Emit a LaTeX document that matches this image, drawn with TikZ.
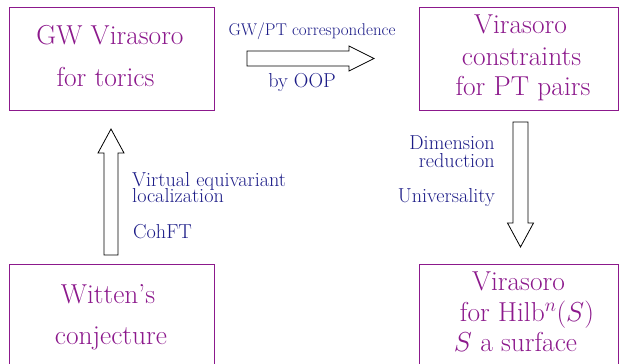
\RequirePackage{fix-cm}
\documentclass[tikz,border=0pt]{standalone}
\definecolor{pur}{RGB}{140,25,140}
\definecolor{blu}{RGB}{28,28,135}
\begin{document}
\begin{tikzpicture}[x=1pt,y=-1pt,
  box/.style={draw=pur, line width=0.8pt, inner sep=0pt},
  ptext/.style={text=pur, font=\fontsize{27.4}{30}\selectfont, inner sep=0pt},
  btext/.style={text=blu, font=\fontsize{20.2}{20}\selectfont, inner sep=0pt},
  stext/.style={text=blu, font=\fontsize{17}{17}\selectfont, inner sep=0pt},
  blockarrow/.style={draw=black, fill=white, line width=0.8pt, line join=miter}]
\useasboundingbox (0,0) rectangle (619,364);
\clip (0,0) rectangle (619,364);
% boxes
\node[box, minimum width=205pt, minimum height=103pt] (gwbox) at (111.5,58.5) {};
\node[box, minimum width=199pt, minimum height=103pt] (ptbox) at (518.5,58.5) {};
\node[box, minimum width=205pt, minimum height=107pt] (wbox) at (111.5,317.5) {};
\node[box, minimum width=199pt, minimum height=106pt] (hbox) at (518.5,317) {};
% box texts
\node[ptext, anchor=base] (gw1) at (110,45) {GW Virasoro};
\node[ptext, anchor=base] (gw2) at (105.5,86) {for torics};
\node[ptext, anchor=base] (pt1) at (520.5,34) {Virasoro};
\node[ptext, anchor=base] (pt2) at (521.5,65) {constraints};
\node[ptext, anchor=base] (pt3) at (523,95) {for PT pairs};
\node[ptext, anchor=base] (w1) at (108,303) {Witten's};
\node[ptext, anchor=base] (w2) at (111,344) {conjecture};
\node[ptext, anchor=base] (h1) at (518.5,290) {Virasoro};
\node[ptext, anchor=base] (h2) at (527,321) {for Hilb$^n(S)$};
\node[ptext, anchor=base] (h3) at (515.5,351) {$S$ a surface};
% block arrows
\draw[blockarrow] (247,51) -- (349,51) -- (349,46) -- (374,58.5) -- (349,71) -- (349,66) -- (247,66) -- cycle;
\draw[blockarrow] (104,255) -- (104,153) -- (98,153) -- (111,129) -- (124,153) -- (118,153) -- (118,255) -- cycle;
\draw[blockarrow] (513,122) -- (528,122) -- (528,223) -- (533.5,223) -- (520.5,247) -- (507.5,223) -- (513,223) -- cycle;
% arrow labels
\node[stext, anchor=base] (l1) at (312,35) {GW/PT correspondence};
\node[btext, anchor=base] (l2) at (302,87) {by OOP};
\node[btext, anchor=base west] (l3) at (132,186) {Virtual equivariant};
\node[btext, anchor=base west] (l4) at (132,202) {localization};
\node[btext, anchor=base west] (l5) at (133,238) {CohFT};
\node[btext, anchor=base east] (l6) at (495,149) {Dimension};
\node[btext, anchor=base east] (l7) at (495,167) {reduction};
\node[btext, anchor=base east] (l8) at (495,202) {Universality};
\end{tikzpicture}
\end{document}
